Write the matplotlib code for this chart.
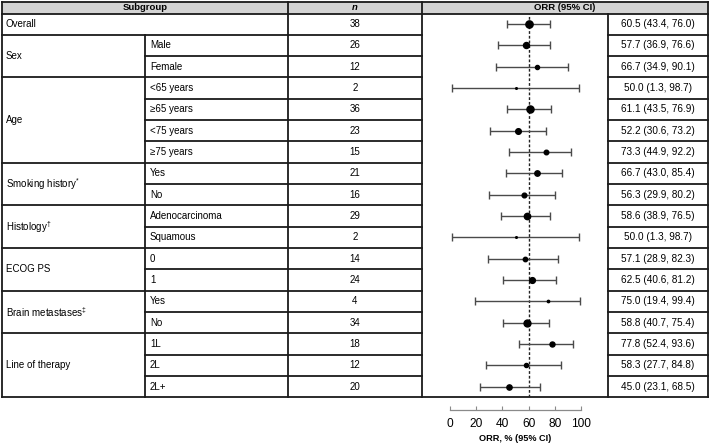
import matplotlib
matplotlib.use("Agg")
import matplotlib.pyplot as plt
import numpy as np

plt.rcParams["font.family"] = ["Liberation Sans", "DejaVu Sans"]
plt.rcParams["mathtext.fontset"] = "custom"
plt.rcParams["mathtext.rm"] = "Liberation Sans"
plt.rcParams["mathtext.it"] = "Liberation Sans:italic"

# ---- data ----
groups = ["Overall", "Sex", "Age", r"Smoking history$^{*}$", r"Histology$^{\dagger}$",
          "ECOG PS", r"Brain metastases$^{\ddagger}$", "Line of therapy"]
group_sizes = [1, 2, 4, 2, 2, 2, 2, 3]
subgroups = ["", "Male", "Female", "<65 years", "\u226565 years", "<75 years", "\u226575 years",
             "Yes", "No", "Adenocarcinoma", "Squamous", "0", "1", "Yes", "No",
             "1L", "2L", "2L+"]
n_pts = [38, 26, 12, 2, 36, 23, 15, 21, 16, 29, 2, 14, 24, 4, 34, 18, 12, 20]
orr = [60.5, 57.7, 66.7, 50.0, 61.1, 52.2, 73.3, 66.7, 56.3, 58.6, 50.0, 57.1, 62.5,
       75.0, 58.8, 77.8, 58.3, 45.0]
ci_lo = [43.4, 36.9, 34.9, 1.3, 43.5, 30.6, 44.9, 43.0, 29.9, 38.9, 1.3, 28.9, 40.6,
         19.4, 40.7, 52.4, 27.7, 23.1]
ci_hi = [76.0, 76.6, 90.1, 98.7, 76.9, 73.2, 92.2, 85.4, 80.2, 76.5, 98.7, 82.3, 81.2,
         99.4, 75.4, 93.6, 84.8, 68.5]
ref_orr = 60.5
ticks = [0, 20, 40, 60, 80, 100]

W, H = 709, 446
fig = plt.figure(figsize=(W / 100, H / 100), dpi=100)

# table geometry in pixels
x_left, x_sub, x_n, x_plot, x_val, x_right = 1.5, 145, 288, 422, 608, 707.5
y_top, y_head = 1.5, 13.5
row_h = 21.33
nrows = len(subgroups)
y_bot = y_head + nrows * row_h
lw = 1.3
fs = 7.0

bg = fig.add_axes([0, 0, 1, 1])
bg.set_xlim(0, W)
bg.set_ylim(H, 0)
bg.axis("off")

# header
bg.add_patch(plt.Rectangle((x_left, y_top), x_right - x_left, y_head - y_top,
                           facecolor="#d4d4d4", edgecolor="none", zorder=0))
bg.text((x_left + x_n) / 2, (y_top + y_head) / 2, "Subgroup", ha="center", va="center",
        fontsize=6.8, fontweight="bold")
bg.text((x_n + x_plot) / 2, (y_top + y_head) / 2, "n", ha="center", va="center",
        fontsize=6.8, fontweight="bold", style="italic")
bg.text((x_plot + x_right) / 2, (y_top + y_head) / 2, "ORR (95% CI)", ha="center",
        va="center", fontsize=6.8, fontweight="bold")

k = dict(color="#1a1a1a", lw=lw, solid_capstyle="projecting")
bg.plot([x_left, x_right], [y_top, y_top], **k)
bg.plot([x_left, x_right], [y_head, y_head], **k)
bg.plot([x_left, x_right], [y_bot, y_bot], **k)
for xv in (x_left, x_n, x_plot, x_right):
    bg.plot([xv, xv], [y_top, y_bot], **k)
bg.plot([x_val, x_val], [y_head, y_bot], **k)
bg.plot([x_sub, x_sub], [y_head + row_h, y_bot], **k)

starts = np.cumsum([0] + group_sizes[:-1])
for r in range(1, nrows):
    yy = y_head + r * row_h
    x0 = x_left if r in starts else x_sub
    bg.plot([x0, x_plot], [yy, yy], **k)
    bg.plot([x_val, x_right], [yy, yy], **k)

for g, s, sz in zip(groups, starts, group_sizes):
    yc = y_head + (s + sz / 2) * row_h
    bg.text(x_left + 4, yc, g, ha="left", va="center", fontsize=fs)

for r in range(nrows):
    yc = y_head + (r + 0.5) * row_h
    if subgroups[r]:
        bg.text(x_sub + 5, yc, subgroups[r], ha="left", va="center", fontsize=fs)
    bg.text((x_n + x_plot) / 2, yc, str(n_pts[r]), ha="center", va="center", fontsize=fs)
    bg.text((x_val + x_right) / 2, yc, f"{orr[r]:.1f} ({ci_lo[r]:.1f}, {ci_hi[r]:.1f})",
            ha="center", va="center", fontsize=7.2)

# forest plot axes over the plot column
px0, px100 = 450, 581
scale = (px100 - px0) / 100
ax = fig.add_axes([x_plot / W, 1 - y_bot / H, (x_val - x_plot) / W, (y_bot - y_head) / H])
ax.patch.set_alpha(0)
ax.set_xlim((x_plot - px0) / scale, (x_val - px0) / scale)
ax.set_ylim(nrows - 0.5, -0.5)
rows = np.arange(nrows)

ax.axvline(ref_orr, color="#222222", lw=1.0, dashes=(2, 1.4), zorder=1)
for r in rows:
    ax.errorbar(orr[r], r, xerr=[[orr[r] - ci_lo[r]], [ci_hi[r] - orr[r]]],
                fmt="o", color="black", ecolor="#4a4a4a", elinewidth=1.0,
                capsize=3.2, capthick=1.0, markersize=0.85 * np.sqrt(n_pts[r]),
                zorder=3)

for side in ("top", "right", "left"):
    ax.spines[side].set_visible(False)
ax.spines["bottom"].set_position(("outward", 9))
ax.spines["bottom"].set_bounds(0, 100)
ax.spines["bottom"].set_color("#8a8a8a")
ax.spines["bottom"].set_linewidth(0.9)
ax.set_yticks([])
ax.set_xticks(ticks)
ax.tick_params(axis="x", direction="in", length=3, width=0.8, color="#8a8a8a",
               labelsize=8.6, pad=6)
ax.set_xlabel("ORR, % (95% CI)", fontsize=6.6, fontweight="bold", labelpad=3)

fig.savefig("out.png", dpi=100)
